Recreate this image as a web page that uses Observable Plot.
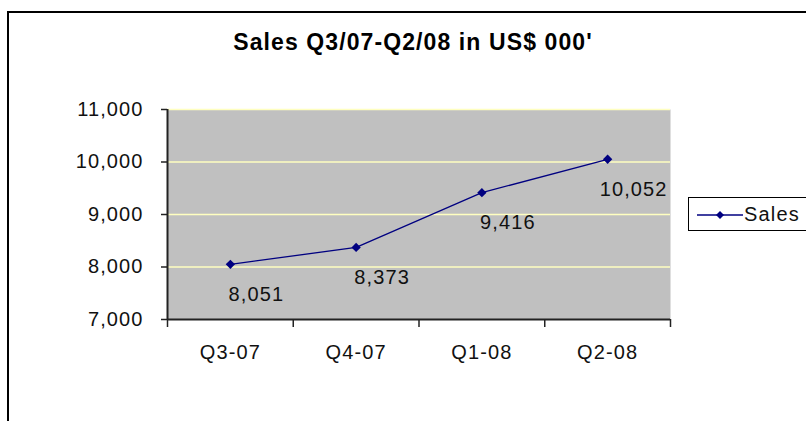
<!DOCTYPE html>
<html>
<head>
<meta charset="utf-8">
<script src="https://cdn.jsdelivr.net/npm/d3@7"></script>
<script src="https://cdn.jsdelivr.net/npm/@observablehq/plot@0.6"></script>
<style>
  html, body { margin: 0; padding: 0; background: #fff; }
  #wrap { position: relative; width: 806px; height: 421px; overflow: hidden; font-family: "Liberation Sans", Arial, sans-serif; }
  #border { position: absolute; left: 7px; top: 11px; width: 900px; height: 500px; border-left: 2px solid #000; border-top: 2px solid #000; box-sizing: border-box; }
  #title { position: absolute; left: 0; width: 826px; top: 29px; text-align: center; font-weight: bold; font-size: 23px; letter-spacing: 1.1px; color: #000; }
  #chart { position: absolute; left: 0; top: 0; }
  #legend { position: absolute; left: 688px; top: 197px; width: 140px; height: 34px; border: 1.5px solid #000; box-sizing: border-box; background: #fff; }
  #legend svg { position: absolute; left: 6px; top: 10px; }
  #legend span { position: absolute; left: 55px; top: 5px; font-size: 20px; letter-spacing: 1.2px; color: #111; }
</style>
</head>
<body>
<div id="wrap">
  <div id="border"></div>
  <div id="title">Sales Q3/07-Q2/08 in US$ 000'</div>
  <div id="chart"></div>
  <div id="legend">
    <svg width="50" height="14"><line x1="2" y1="7" x2="48" y2="7" stroke="#000080" stroke-width="1.3"/><path d="M25,3 L29,7 L25,11 L21,7 Z" fill="#000080"/></svg>
    <span>Sales</span>
  </div>
</div>
<script>
const quarters = ["Q3-07", "Q4-07", "Q1-08", "Q2-08"];
const sales = [8051, 8373, 9416, 10052];
const yTicks = [7000, 8000, 9000, 10000, 11000];
const seriesName = "Sales";

const data = quarters.map((q, i) => ({q, i: i + 0.5, v: sales[i]}));
const fmt = d3.format(",");

const chart = Plot.plot({
  width: 806,
  height: 421,
  marginLeft: 167,
  marginRight: 136,
  marginTop: 109,
  marginBottom: 102,
  style: {fontFamily: "Liberation Sans, Arial, sans-serif", fontSize: "20px", color: "#111", background: "transparent", letterSpacing: "1.1px"},
  x: {domain: [0, quarters.length]},
  y: {domain: [7000, 11000]},
  marks: [
    Plot.frame({fill: "#C0C0C0", stroke: null}),
    Plot.ruleY(yTicks.filter(d => d > 7000), {stroke: "#FFFFC0", strokeWidth: 1.5}),
    Plot.axisY({ticks: yTicks, tickFormat: fmt, tickSize: 6, tickPadding: 18, stroke: "#222", strokeWidth: 1.5, label: null, fontSize: 20}),
    Plot.axisX({ticks: d3.range(quarters.length + 1), tickFormat: () => "", tickSize: 8, stroke: "#222", strokeWidth: 1.5, label: null}),
    Plot.axisX({ticks: data.map(d => d.i), tickFormat: t => quarters[Math.floor(t)], tickSize: 0, tickPadding: 25, label: null, fontSize: 20}),
    Plot.ruleX([0], {stroke: "#222", strokeWidth: 2}),
    Plot.ruleY([7000], {stroke: "#222", strokeWidth: 2}),
    Plot.line(data, {x: "i", y: "v", stroke: "#000080", strokeWidth: 1.3}),
    Plot.dot(data, {x: "i", y: "v", symbol: "diamond2", r: 4.2, fill: "#000080", stroke: null}),
    Plot.text(data, {x: "i", y: "v", text: d => fmt(d.v), dx: 26, dy: 30, fontSize: 20, fill: "#111"})
  ]
});
document.getElementById("chart").appendChild(chart);
</script>
</body>
</html>
